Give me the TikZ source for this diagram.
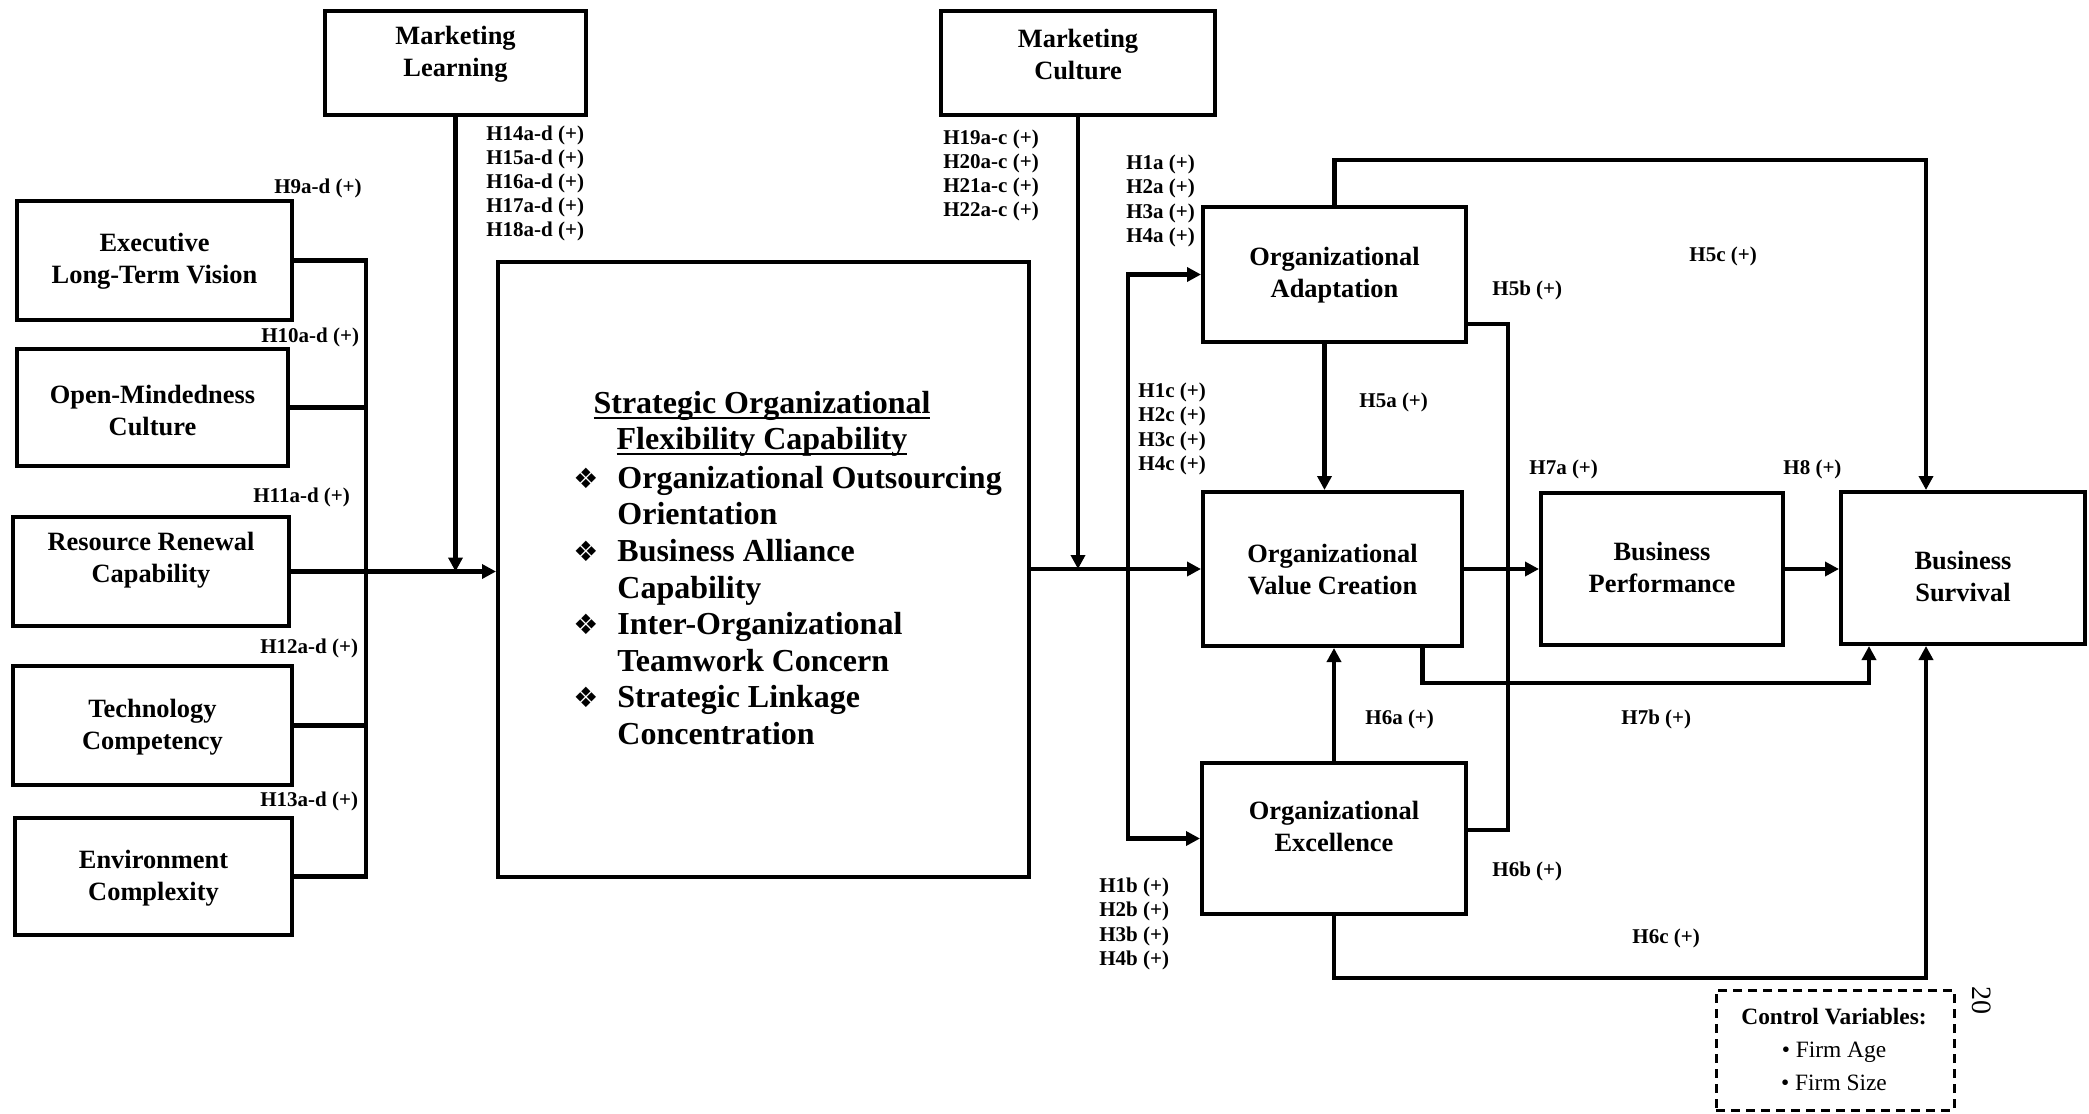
\documentclass[tikz,border=0pt]{standalone}
\usepackage{fontspec}
\setmainfont{Liberation Serif}
\newfontfamily\symfont{DejaVu Sans}
\usetikzlibrary{arrows.meta}
% underline at a fixed depth, drawn through descenders
\newcommand\myul[1]{\setbox0\hbox{#1}\rlap{\rule[-2.8pt]{\wd0}{1.3pt}}\box0}
\newcommand\bul{{\symfont\fontsize{14}{14}\selectfont ❖}}
\begin{document}
\begin{tikzpicture}[x=0.5pt,y=-0.5pt,
  box/.style={draw, line width=2pt, inner sep=0pt},
  boxtext/.style={font=\fontsize{13.2}{16}\selectfont\bfseries, align=center, inner sep=0pt},
  hyp/.style={font=\fontsize{10.5}{12.1}\selectfont\bfseries, align=left, anchor=west, inner sep=0pt},
  link/.style={line width=2.2pt},
  arr/.style={line width=2.2pt, -{Triangle[length=7pt,width=7pt]}},
  biarr/.style={line width=2.2pt, {Triangle[length=7pt,width=7pt]}-{Triangle[length=7pt,width=7pt]}},
]
\useasboundingbox (0,0) rectangle (2089,1114);

% moderators
\node[box, minimum width=130.5pt, minimum height=52pt] (ml) at (455.5,63) {};
\node[boxtext] (mlt) at (455.5,54) {Marketing\\Learning};
\node[box, minimum width=137pt, minimum height=52pt] (mc) at (1078,63) {};
\node[boxtext] (mct) at (1078,54) {Marketing\\Culture};

% antecedents
\node[box, minimum width=137.5pt, minimum height=59.5pt] (exec) at (154.5,260.5) {};
\node[boxtext] (exect) at (154.5,261) {Executive\\Long-Term Vision};
\node[box, minimum width=135.5pt, minimum height=58.5pt] (open) at (152.5,407.5) {};
\node[boxtext] (opent) at (152.5,410) {Open-Mindedness\\Culture};
\node[box, minimum width=138pt, minimum height=54.5pt] (rr) at (151,571.5) {};
\node[boxtext] (rrt) at (151,560) {Resource Renewal\\Capability};
\node[box, minimum width=139.5pt, minimum height=59.5pt] (tech) at (152.5,725.5) {};
\node[boxtext] (techt) at (152.5,727) {Technology\\Competency};
\node[box, minimum width=138.5pt, minimum height=58.5pt] (env) at (153.5,876.5) {};
\node[boxtext] (envt) at (153.5,878) {Environment\\Complexity};

% core construct
\node[box, minimum width=265.5pt, minimum height=307.5pt] (sofc) at (763.5,569.5) {};
\node[font=\fontsize{16}{18}\selectfont\bfseries, align=center, inner sep=0pt] (sofch) at (762,424)
  {\myul{Strategic Organizational}\\\myul{Flexibility Capability}};
\node[font=\fontsize{16}{18.3}\selectfont\bfseries, anchor=west, inner sep=0pt] (sofcl) at (573,609)
  {\begin{tabular}{@{}p{22pt}@{}l@{}}
   \bul & Organizational Outsourcing\\
        & Orientation\\
   \bul & Business Alliance\\
        & Capability\\
   \bul & Inter-Organizational\\
        & Teamwork Concern\\
   \bul & Strategic Linkage\\
        & Concentration
  \end{tabular}};

% consequences
\node[box, minimum width=131.5pt, minimum height=67.5pt] (oa) at (1334.5,274.5) {};
\node[boxtext] (oat) at (1334.5,275) {Organizational\\Adaptation};
\node[box, minimum width=129.5pt, minimum height=77pt] (ovc) at (1332.5,569) {};
\node[boxtext] (ovct) at (1332.5,570) {Organizational\\Value Creation};
\node[box, minimum width=132pt, minimum height=75.5pt] (oe) at (1334,838.5) {};
\node[boxtext] (oet) at (1334,826) {Organizational\\Excellence};
\node[box, minimum width=121pt, minimum height=76pt] (bp) at (1662,569) {};
\node[boxtext] (bpt) at (1662,567) {Business\\Performance};
\node[box, minimum width=122pt, minimum height=76pt] (bs) at (1963,568) {};
\node[boxtext] (bst) at (1963,576) {Business\\Survival};

% control variables
\node[draw, line width=1.5pt, dash pattern=on 4.5pt off 3pt, minimum width=119pt, minimum height=60pt, inner sep=0pt] (cv) at (1835,1050) {};
\node[font=\fontsize{11.7}{16.5}\selectfont, align=center, inner sep=0pt] (cvt) at (1834,1049)
  {\textbf{Control Variables:}\\\textbullet\ Firm Age\\\textbullet\ Firm Size};
\node[rotate=-90, font=\fontsize{14}{14}\selectfont, inner sep=0pt] (pg) at (1982,1000) {20};

% helper coordinates for routing
\coordinate (bus) at (366,0);
\coordinate (split) at (1128,0);
\coordinate (toprow) at (0,160);
\coordinate (bsx) at (1926,0);
\coordinate (vx) at (1508,0);
\coordinate (h7row) at (0,683);
\coordinate (h7x) at (1869,0);
\coordinate (h6row) at (0,978);
\coordinate (oaport) at ([yshift=-24.75pt]oa.east);
\coordinate (oeport) at ([yshift=4.25pt]oe.east);

% antecedents into the core construct
\draw[link] (exec.east) -| (env.east -| bus) -- (env.east);
\draw[link] (open.east) -- (open.east -| bus);
\draw[link] (tech.east) -- (tech.east -| bus);
\draw[arr] (rr.east) -- (rr.east -| sofc.west);
\draw[arr] (ml.south) -- (ml.south |- rr.east);

% core construct into the consequences
\draw[arr] (ovc.west -| sofc.east) -- (ovc.west);
\draw[arr] (mc.south) -- (mc.south |- ovc.west);
\draw[biarr] (oa.west) -| (split |- oe.west) -- (oe.west);

% relations among consequences
\draw[arr] ([xshift=-5pt]oa.south) -- ([xshift=-5pt]oa.south |- ovc.north);
\draw[arr] (oe.north) -- (oe.north |- ovc.south);
\draw[arr] (oa.north) |- (toprow -| bsx) -- (bsx |- bs.north);
\draw[link] (oaport) -| (oeport -| vx) -- (oeport);
\draw[arr] (ovc.east) -- (bp.west);
\draw[arr] (bp.east) -- (bp.east -| bs.west);
\draw[arr] ([xshift=45pt]ovc.south) |- (h7row -| h7x) -- (h7x |- bs.south);
\draw[arr] (oe.south) |- (h6row -| bsx) -- (bsx |- bs.south);

% hypothesis labels
\node[hyp] (h9) at (274,188) {H9a-d (+)};
\node[hyp] (h10) at (261,337) {H10a-d (+)};
\node[hyp] (h11) at (253,497) {H11a-d (+)};
\node[hyp] (h12) at (260,648) {H12a-d (+)};
\node[hyp] (h13) at (260,801) {H13a-d (+)};
\node[hyp] (h14) at (486,183.5) {H14a-d (+)\\H15a-d (+)\\H16a-d (+)\\H17a-d (+)\\H18a-d (+)};
\node[hyp] (h19) at (943,175.5) {H19a-c (+)\\H20a-c (+)\\H21a-c (+)\\H22a-c (+)};
\node[hyp] (h1a) at (1126,201) {H1a (+)\\H2a (+)\\H3a (+)\\H4a (+)};
\node[hyp] (h1c) at (1138,429) {H1c (+)\\H2c (+)\\H3c (+)\\H4c (+)};
\node[hyp] (h1b) at (1099,924) {H1b (+)\\H2b (+)\\H3b (+)\\H4b (+)};
\node[hyp] (h5a) at (1359,402) {H5a (+)};
\node[hyp] (h5b) at (1492,290) {H5b (+)};
\node[hyp] (h5c) at (1689,256) {H5c (+)};
\node[hyp] (h7a) at (1529,469) {H7a (+)};
\node[hyp] (h8) at (1783,469) {H8 (+)};
\node[hyp] (h6a) at (1365,719) {H6a (+)};
\node[hyp] (h7b) at (1621,719) {H7b (+)};
\node[hyp] (h6b) at (1492,871) {H6b (+)};
\node[hyp] (h6c) at (1632,938) {H6c (+)};
\end{tikzpicture}
\end{document}
